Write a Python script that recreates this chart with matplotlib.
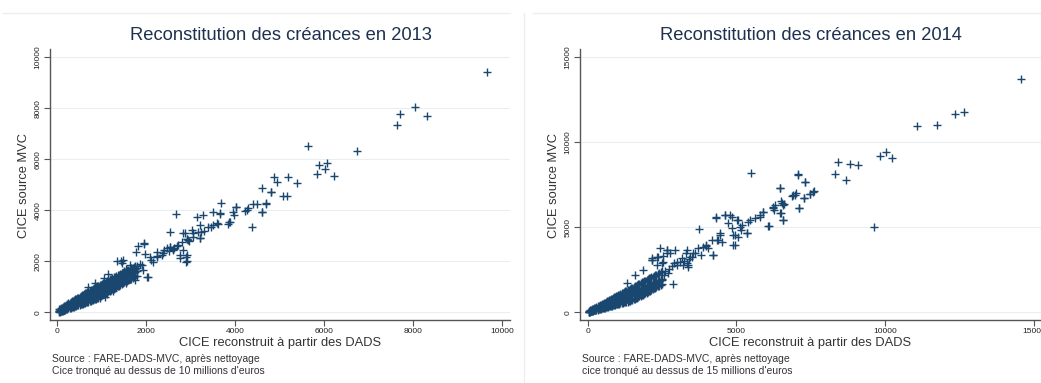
import matplotlib.pyplot as plt
from matplotlib.lines import Line2D

# ---- data ----
# 2013: dense band near the origin, read as rows of y for each x
band_x_2013 = [40, 80, 120, 160, 200, 250, 300, 350, 400, 450, 500, 550, 600, 650, 700, 750, 800,
               850, 900, 950, 1000, 1060, 1120, 1180, 1240, 1300, 1360, 1420, 1480, 1540, 1600,
               1660, 1720, 1780]
band_hi_2013 = [110, 160, 210, 250, 300, 350, 400, 460, 510, 560, 610, 660, 720, 770, 820, 870, 920,
                970, 1020, 1070, 1120, 1170, 1230, 1290, 1340, 1400, 1450, 1510, 1560, 1620, 1670,
                1720, 1780, 1830]
band_mid_2013 = [70, 100, 140, 180, 220, 270, 320, 370, 420, 470, 520, 570, 620, 670, 720, 770, 820,
                 870, 920, 970, 1020, 1080, 1130, 1190, 1250, 1300, 1360, 1420, 1470, 1530, 1580,
                 1640, 1690, 1740]
band_mid2_2013 = [40, 70, 100, 130, 165, 205, 245, 285, 325, 365, 405, 450, 490, 530, 570, 610, 650,
                  690, 730, 775, 850, 910, 970, 1030, 1080, 1140, 1200, 1260, 1320, 1380, 1440,
                  1500, 1560, 1620]
band_lo_2013 = [20, 45, 70, 95, 120, 150, 180, 210, 240, 270, 300, 330, 360, 390, 420, 450, 490,
                520, 550, 580, 680, 730, 790, 850, 900, 960, 1020, 1080, 1140, 1200, 1260, 1320,
                1380, 1440]
# same band, positions in between
band_xb_2013 = [60, 100, 140, 180, 225, 275, 325, 375, 425, 475, 525, 575, 625, 675, 725, 775, 825,
                875, 925, 975, 1030, 1090, 1150, 1210, 1270, 1330, 1390, 1450, 1510, 1570, 1630,
                1690, 1750]
band_hib_2013 = [120, 170, 220, 265, 320, 370, 430, 480, 530, 580, 630, 690, 740, 790, 840, 890, 940,
                 990, 1040, 1090, 1140, 1200, 1260, 1310, 1370, 1420, 1480, 1530, 1590, 1640, 1690,
                 1750, 1800]
band_midb_2013 = [80, 110, 150, 190, 240, 290, 340, 390, 440, 490, 540, 590, 640, 690, 740, 790, 840,
                  890, 940, 990, 1050, 1100, 1160, 1220, 1270, 1330, 1390, 1440, 1500, 1550, 1610,
                  1660, 1710]
band_mid2b_2013 = [50, 75, 105, 140, 185, 225, 265, 305, 345, 385, 425, 470, 510, 550, 590, 630, 670,
                   710, 750, 800, 880, 940, 1000, 1050, 1110, 1170, 1230, 1290, 1350, 1410, 1470,
                   1530, 1590]
band_lob_2013 = [30, 50, 75, 100, 135, 165, 195, 225, 255, 285, 315, 345, 375, 405, 435, 470, 505,
                 535, 565, 630, 705, 760, 820, 875, 930, 990, 1050, 1110, 1170, 1230, 1290, 1350,
                 1410]
dads_2013_sparse = [9663, 8045, 7700, 7640, 8315, 6742, 5640, 5888, 6067, 6015, 5828, 6225, 4869, 4944,
                    5191, 5393, 4607, 4809, 5079, 5169, 3678, 4697, 4607, 4479, 4292, 4217, 4015, 3955,
                    3978, 4382, 3506, 3655, 3281, 3146, 2674, 3865, 3843, 3618, 3506, 3393, 3206, 3206,
                    3228, 3056, 2532, 2831, 2906, 2884, 2891, 2757, 2622, 2532, 2404, 2232, 1948, 1820,
                    1768, 2007, 1745, 1423, 1124, 929, 4016, 4405, 4802, 4683, 4593, 3656, 4256, 3881,
                    3582, 3169, 3020, 2870, 2907, 3207, 1955, 1971, 2083, 2233, 2382, 2533, 2607, 2720,
                    2832, 2907, 2907, 2757, 2944, 1483, 1633, 1746, 2045, 1933, 2157, 2458, 2100, 2250,
                    2350, 2500, 2600, 2700, 2800, 2950, 3050, 3300, 3450, 1550, 1650, 1850, 1900, 1700,
                    1500, 1446, 1333, 1150, 1060, 850, 700, 921, 1071, 1250, 1550, 1700]
mvc_2013_sparse = [9438, 8039, 7778, 7359, 7686, 6327, 6523, 5765, 5843, 5634, 5425, 5359, 5320, 5124,
                   5320, 5072, 4889, 4706, 4562, 4575, 4275, 4275, 3922, 4261, 4105, 3987, 4144, 3948,
                   3817, 3333, 3922, 3843, 3817, 3752, 3843, 3556, 3477, 3464, 3412, 3359, 3412, 2915,
                   3137, 3098, 3150, 3098, 2863, 2183, 1987, 2248, 2510, 2575, 2444, 2183, 2680, 2601,
                   2353, 1399, 1268, 2013, 699, 660, 4141, 4247, 4706, 4247, 3922, 3882, 4012, 3553,
                   3490, 3161, 3228, 3098, 2863, 2902, 2706, 2286, 2180, 2376, 2314, 2573, 2443, 2639,
                   2443, 2247, 2012, 2117, 2835, 2051, 1855, 1725, 1396, 1659, 1984, 2510, 2050, 2200,
                   2250, 2420, 2500, 2600, 2750, 2800, 2950, 3200, 3350, 1700, 1750, 1900, 1850, 1600,
                   1600, 1922, 2000, 1500, 1350, 1150, 1000, 614, 614, 850, 1150, 1450]

# 2014
band_x_2014 = [50, 120, 190, 260, 330, 400, 470, 540, 610, 680, 750, 820, 890, 960, 1030, 1100, 1180,
               1260, 1340, 1420, 1500, 1580, 1660, 1740, 1820, 1900, 1980, 2060, 2140, 2220, 2300,
               2400, 2500]
band_hi_2014 = [75, 145, 210, 275, 345, 410, 475, 545, 610, 675, 745, 810, 875, 945, 1010, 1075, 1150,
                1230, 1305, 1380, 1455, 1530, 1610, 1685, 1760, 1835, 1910, 1990, 2065, 2140, 2215,
                2310, 2400]
band_mid_2014 = [40, 95, 150, 205, 260, 310, 365, 420, 475, 530, 585, 640, 695, 750, 805, 860, 920,
                 985, 1045, 1110, 1170, 1235, 1295, 1355, 1420, 1480, 1545, 1605, 1670, 1730, 1795,
                 1870, 1950]
band_mid2_2014 = [30, 75, 120, 160, 205, 250, 290, 335, 380, 420, 465, 510, 550, 595, 640, 680, 730,
                  780, 900, 970, 1030, 1100, 1170, 1240, 1310, 1380, 1450, 1520, 1600, 1680, 1760,
                  1850, 1920]
band_lo_2014 = [25, 60, 90, 125, 160, 190, 225, 260, 290, 325, 360, 395, 425, 460, 495, 530, 565,
                605, 620, 680, 740, 800, 870, 940, 1010, 1080, 1160, 1240, 1320, 1400, 1480, 1560,
                1640]
band_xb_2014 = [85, 155, 225, 295, 365, 435, 505, 575, 645, 715, 785, 855, 925, 995, 1065, 1140, 1220,
                1300, 1380, 1460, 1540, 1620, 1700, 1780, 1860, 1940, 2020, 2100, 2180, 2260, 2350,
                2450]
band_hib_2014 = [110, 175, 245, 310, 375, 445, 510, 575, 645, 710, 775, 845, 910, 975, 1045, 1110,
                 1190, 1265, 1340, 1420, 1495, 1570, 1645, 1720, 1800, 1870, 1950, 2025, 2100, 2180,
                 2260, 2355]
band_midb_2014 = [65, 120, 175, 230, 285, 340, 390, 445, 500, 555, 610, 665, 720, 775, 830, 890, 950,
                  1015, 1080, 1140, 1200, 1265, 1325, 1390, 1450, 1510, 1575, 1640, 1700, 1765, 1830,
                  1910]
band_mid2b_2014 = [50, 95, 140, 185, 225, 270, 315, 355, 400, 445, 490, 530, 575, 615, 660, 705, 755,
                   840, 935, 1000, 1065, 1135, 1205, 1275, 1345, 1415, 1485, 1560, 1640, 1720, 1805,
                   1885]
band_lob_2014 = [40, 75, 110, 145, 175, 210, 245, 275, 310, 345, 380, 410, 445, 480, 510, 550, 585,
                 610, 650, 710, 770, 835, 905, 975, 1045, 1120, 1200, 1280, 1360, 1440, 1520, 1600]
dads_2014_sparse = [14586, 12640, 12360, 11734, 11085, 10034, 9843, 10224, 9642, 9072, 8803, 8412, 8300,
                    8669, 7081, 7293, 5492, 6477, 7606, 7461, 7260, 6957, 6879, 6510, 6600, 7103, 6454,
                    6566, 6230, 6286, 6085, 5895, 5783, 5626, 5447, 5358, 5134, 5168, 5056, 4944, 4888,
                    4609, 4776, 4329, 3747, 4441, 4385, 4217, 3993, 3826, 3546, 3322, 3378, 2908, 2875,
                    2651, 2349, 2181, 1756, 2148, 2539, 7082, 7307, 6466, 6914, 7004, 7284, 7586, 7475,
                    6523, 6577, 6490, 6577, 7115, 6241, 6264, 6073, 5905, 5794, 5400, 5178, 5346, 5064,
                    4896, 4953, 4842, 4617, 4842, 4314, 4707, 5030, 4449, 4338, 4506, 4170, 3978, 4055,
                    4223, 3887, 3719, 3608, 3329, 3440, 3161, 2993, 2767, 2656, 2935, 3215, 2542, 2320,
                    2152, 3329, 3383, 2433, 2680, 2152, 2208, 2343, 2489, 1872, 1592, 1312, 2600, 2750,
                    2850, 3000, 3100, 3250, 3400, 3500, 2700, 2550]
mvc_2014_sparse = [13701, 11811, 11693, 11004, 10945, 9449, 9193, 9055, 5020, 8681, 8740, 8839, 8110,
                   7776, 8130, 7677, 8209, 7323, 7126, 6988, 6732, 6929, 6831, 6535, 6398, 6142, 5846,
                   5453, 6142, 6299, 5059, 5906, 5748, 5551, 5453, 4665, 5000, 4862, 5453, 4528, 3937,
                   5709, 5748, 5610, 4902, 4665, 4272, 3386, 3878, 3386, 3484, 3484, 2756, 2894, 1673,
                   3681, 3228, 1516, 1063, 3091, 3287, 8076, 7647, 7294, 6900, 7035, 6706, 7094, 6959,
                   6412, 6312, 5859, 5429, 6153, 6212, 6018, 5076, 5918, 5624, 5329, 5135, 4647, 4447,
                   4547, 3959, 4941, 5724, 5624, 5565, 5235, 5429, 4547, 4253, 4153, 4253, 3959, 3765,
                   3371, 3859, 3765, 3471, 3665, 3271, 3176, 2976, 3471, 3665, 3665, 2782, 2976, 2782,
                   3176, 2882, 2682, 3765, 3471, 3078, 1510, 3275, 2882, 2490, 2196, 1706, 2400, 2550,
                   2700, 2800, 2950, 3000, 3150, 3250, 2300, 2200]

titles = ["Reconstitution des créances en 2013", "Reconstitution des créances en 2014"]
xticks_2013 = [0, 2000, 4000, 6000, 8000, 10000]
yticks_2013 = [0, 2000, 4000, 6000, 8000, 10000]
xticks_2014 = [0, 5000, 10000, 15000]
yticks_2014 = [0, 5000, 10000, 15000]
notes = [["Source : FARE-DADS-MVC, après nettoyage", "Cice tronqué au dessus de 10 millions d'euros"],
         ["Source : FARE-DADS-MVC, après nettoyage", "cice tronqué au dessus de 15 millions d'euros"]]

plt.rcParams['font.family'] = ['Liberation Sans', 'DejaVu Sans']

navy = '#1a476f'
W, H = 1041, 383
fig = plt.figure(figsize=(W / 100, H / 100), dpi=100)
fig.patch.set_facecolor('white')

# panel borders
fig.add_artist(Line2D([3 / W, 510 / W], [1 - 13 / H] * 2, color='#eeeeee', lw=1))
fig.add_artist(Line2D([533 / W, 1], [1 - 13 / H] * 2, color='#eeeeee', lw=1))
fig.add_artist(Line2D([524 / W] * 2, [1 - 13 / H, 0], color='#eeeeee', lw=1))

ax1 = fig.add_axes([50 / W, 1 - 320 / H, 460 / W, 271 / H])
ax2 = fig.add_axes([580 / W, 1 - 320 / H, 461 / W, 271 / H])

panels = [
    (ax1, [(band_x_2013, [band_hi_2013, band_mid_2013, band_mid2_2013, band_lo_2013]),
           (band_xb_2013, [band_hib_2013, band_midb_2013, band_mid2b_2013, band_lob_2013])],
     dads_2013_sparse, mvc_2013_sparse, xticks_2013, yticks_2013, (-164, 10173), (-302, 10325)),
    (ax2, [(band_x_2014, [band_hi_2014, band_mid_2014, band_mid2_2014, band_lo_2014]),
           (band_xb_2014, [band_hib_2014, band_midb_2014, band_mid2b_2014, band_lob_2014])],
     dads_2014_sparse, mvc_2014_sparse, xticks_2014, yticks_2014, (-259, 15242), (-453, 15488)),
]

for ax, bands, sx, sy, xt, yt, xl, yl in panels:
    for bx, rows in bands:
        for row in rows:
            ax.plot(bx, row, linestyle='none', marker='+', color=navy, markersize=5.5, mew=1.0)
    ax.plot(sx, sy, linestyle='none', marker='+', color=navy, markersize=5.5, mew=1.0)
    ax.set_xlim(xl)
    ax.set_ylim(yl)
    ax.set_xticks(xt)
    ax.set_yticks(yt)
    ax.set_xticklabels([str(t) for t in xt])
    ax.set_yticklabels([str(t) for t in yt], rotation=90, va='center')
    for t in yt:
        ax.axhline(t, color='#e8eef2', lw=0.8, zorder=0)
    for side in ['top', 'right']:
        ax.spines[side].set_visible(False)
    for side in ['left', 'bottom']:
        ax.spines[side].set_color('#555555')
        ax.spines[side].set_linewidth(1)
    ax.tick_params(direction='out', length=4, width=0.8, color='#555555',
                   labelsize=6, labelcolor='#222222', pad=2)

# titles, axis labels, notes
for i, (xc, xl_left) in enumerate([(281, 24), (811, 554)]):
    fig.text(xc / W, 1 - 36 / H, titles[i], ha='center', va='center',
             fontsize=13.2, color='#1e3250')
    fig.text((xc - 1) / W, 1 - 343 / H, "CICE reconstruit à partir des DADS",
             ha='center', va='center', fontsize=9.3, color='#333333')
    fig.text(xl_left / W, 1 - 185 / H, "CICE source MVC", rotation=90,
             ha='center', va='center', fontsize=9.3, color='#333333')
    x_note = 51.7 if i == 0 else 581.7
    fig.text(x_note / W, 1 - 359.3 / H, notes[i][0], ha='left', va='center',
             fontsize=7.5, color='#333333')
    fig.text(x_note / W, 1 - 370.7 / H, notes[i][1], ha='left', va='center',
             fontsize=7.5, color='#333333')

fig.savefig('out.png', dpi=100, facecolor='white')
